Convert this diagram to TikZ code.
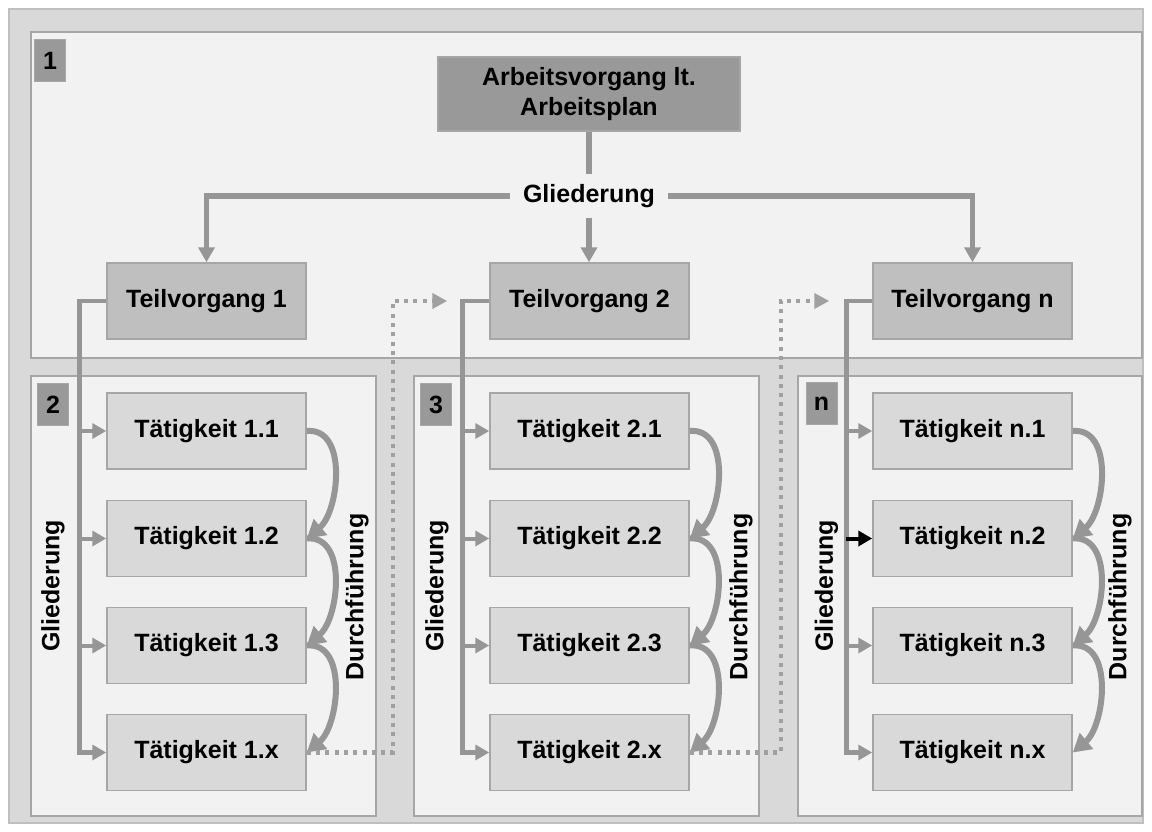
\documentclass[tikz,border=0pt]{standalone}
\usepackage{fontspec}
\setmainfont{Liberation Sans}
\usetikzlibrary{arrows.meta,calc}
\definecolor{framefill}{RGB}{217,217,217}
\definecolor{frameline}{RGB}{191,191,191}
\definecolor{panelfill}{RGB}{242,242,242}
\definecolor{panelline}{RGB}{166,166,166}
\definecolor{darkbox}{RGB}{153,153,153}
\definecolor{midbox}{RGB}{191,191,191}
\definecolor{lightbox}{RGB}{217,217,217}
\definecolor{linkgray}{RGB}{150,150,150}
\definecolor{dotgray}{RGB}{160,160,160}
\begin{document}
\begin{tikzpicture}[x=1pt,y=1pt,
  every node/.style={font=\fontsize{25}{30.5}\selectfont\bfseries},
  panel/.style={fill=panelfill, draw=panelline, line width=1.2pt},
  box/.style={draw=panelline, line width=1.5pt, minimum width=199pt, minimum height=76pt, inner sep=0pt},
  headbox/.style={box, fill=darkbox, minimum width=302pt, minimum height=74pt, align=center},
  subbox/.style={box, fill=midbox},
  taskbox/.style={box, fill=lightbox},
  badge/.style={fill=darkbox, draw=panelline, line width=1pt, minimum width=31pt, minimum height=42pt, inner sep=0pt},
  toplink/.style={draw=linkgray, line width=5.5pt},
  toparrow/.style={toplink, -{Triangle[length=15pt,width=16pt]}},
  sidearrow/.style={draw=linkgray, line width=4.5pt, -{Triangle[length=14pt,width=15pt]}},
  branch/.style={draw=linkgray, line width=4pt, -{Triangle[length=14pt,width=15pt]}},
  blackbranch/.style={branch, draw=black},
  flow/.style={draw=linkgray, line width=6pt, -{Triangle[length=18pt,width=20pt]}},
  handover/.style={draw=dotgray, line width=4.5pt, dash pattern=on 4pt off 5.3pt, -{Triangle[length=15pt,width=15pt]}},
  vlabel/.style={rotate=90, inner sep=0pt}
]
\useasboundingbox (0,0) rectangle (1152,-832);

% frame and panels
\draw[fill=framefill, draw=frameline, line width=1.2pt] (9,-9) rectangle (1143,-823);
\draw[panel] (31,-32) rectangle (1142,-358);
\draw[panel] (31,-376) rectangle (376,-816);
\draw[panel] (414,-376) rectangle (759,-816);
\draw[panel] (798,-376) rectangle (1142,-816);

% panel badges
\node[badge] (b1) at (50,-60.5) {1};
\node[badge] (b2) at (53,-404.5) {2};
\node[badge] (b3) at (436,-404.5) {3};
\node[badge] (bn) at (821.5,-403.5) {n};

% top level
\node[headbox] (top) at (589,-94) {Arbeitsvorgang lt.\\Arbeitsplan};
\node[inner sep=0pt, minimum width=158pt, minimum height=43pt] (gl) at (589,-196) {Gliederung};
\node[subbox] (tv1) at (206.5,-301) {Teilvorgang 1};
\node[subbox] (tv2) at (589.5,-301) {Teilvorgang 2};
\node[subbox] (tvn) at (972.5,-301) {Teilvorgang n};

\draw[toplink] (top.south) -- (gl.north);
\draw[toparrow] (gl.west) -| (tv1.north);
\draw[toparrow] (gl.east) -| (tvn.north);
\draw[toparrow] (gl.south) -- (gl.south |- tv2.north);

% activities
\foreach \col/\x/\k in {a/206.5/1, b/589.5/2, c/972.5/n}{
  \node[taskbox] (\col1) at (\x,-431)   {Tätigkeit \k.1};
  \node[taskbox] (\col2) at (\x,-538.5) {Tätigkeit \k.2};
  \node[taskbox] (\col3) at (\x,-645.5) {Tätigkeit \k.3};
  \node[taskbox] (\col4) at (\x,-752.5) {Tätigkeit \k.x};
  \draw[flow] (\col1.east) to[out=5,in=40] (\col2.east);
  \draw[flow] (\col2.east) to[out=5,in=40] (\col3.east);
  \draw[flow] (\col3.east) to[out=5,in=40] (\col4.east);
}

% breakdown lines from each sub-process to its activities
\coordinate (s1) at ($(tv1.west)+(-27,0)$);
\coordinate (s2) at ($(tv2.west)+(-27,0)$);
\coordinate (s3) at ($(tvn.west)+(-26,0)$);
\draw[sidearrow] (tv1.west) -- (s1) |- (a4.west);
\draw[sidearrow] (tv2.west) -- (s2) |- (b4.west);
\draw[sidearrow] (tvn.west) -- (s3) |- (c4.west);
\foreach \col/\s in {a/s1, b/s2}{
  \draw[branch] (\s |- \col1.west) -- (\col1.west);
  \draw[branch] (\s |- \col2.west) -- (\col2.west);
  \draw[branch] (\s |- \col3.west) -- (\col3.west);
}
\draw[branch] (s3 |- c1.west) -- (c1.west);
\draw[blackbranch] (s3 |- c2.west) -- (c2.west);
\draw[branch] (s3 |- c3.west) -- (c3.west);

% rotated side labels
\node[vlabel] (g1) at (53,-586) {Gliederung};
\node[vlabel] (d1) at (357,-597) {Durchführung};
\node[vlabel] (g2) at (437,-586) {Gliederung};
\node[vlabel] (d2) at (741,-597) {Durchführung};
\node[vlabel] (g3) at (826.5,-586) {Gliederung};
\node[vlabel] (d3) at (1120,-597) {Durchführung};

% hand-over to the next sub-process
\coordinate (h2) at ($(tv2.west)+(-42,0)$);
\coordinate (h3) at ($(tvn.west)+(-43,0)$);
\draw[handover] (a4.east) -- ++(86,0) |- (h2);
\draw[handover] (b4.east) -- ++(91,0) |- (h3);
\end{tikzpicture}
\end{document}
